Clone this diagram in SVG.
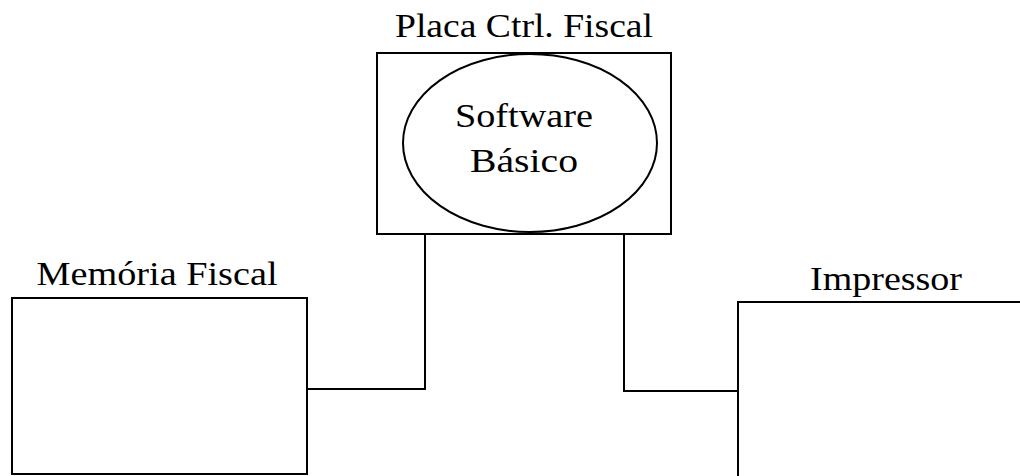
<svg xmlns="http://www.w3.org/2000/svg" width="1020" height="476" viewBox="0 0 1020 476">
  <style>
    .box { fill: #ffffff; stroke: #000000; stroke-width: 2; }
    .wire { fill: none; stroke: #000000; stroke-width: 2; }
    .lbl { font-family: "Liberation Serif", "Times New Roman", serif; font-size: 34px; fill: #000000; }
  </style>
  <rect width="1020" height="476" fill="#ffffff"/>

  <!-- connectors between the control board and the peripherals -->
  <g id="connectors">
    <polyline class="wire" points="425,234 425,389 307,389"/>
    <polyline class="wire" points="624,234 624,391 738,391"/>
  </g>

  <g id="placa">
    <text class="lbl" x="524" y="37" text-anchor="middle" textLength="258" lengthAdjust="spacingAndGlyphs">Placa Ctrl. Fiscal</text>
    <rect class="box" x="377" y="53" width="294" height="181"/>
    <ellipse class="wire" cx="530" cy="143" rx="127" ry="89"/>
    <text class="lbl" x="524" y="127" text-anchor="middle" textLength="138" lengthAdjust="spacingAndGlyphs">Software</text>
    <text class="lbl" x="524" y="172" text-anchor="middle" textLength="108" lengthAdjust="spacingAndGlyphs">Básico</text>
  </g>

  <g id="memoria">
    <text class="lbl" x="157" y="285" text-anchor="middle" textLength="241" lengthAdjust="spacingAndGlyphs">Memória Fiscal</text>
    <rect class="box" x="12" y="298" width="295" height="176"/>
  </g>

  <g id="impressor">
    <text class="lbl" x="886" y="290" text-anchor="middle" textLength="152" lengthAdjust="spacingAndGlyphs">Impressor</text>
    <rect class="box" x="738" y="302" width="290" height="180"/>
  </g>
</svg>
